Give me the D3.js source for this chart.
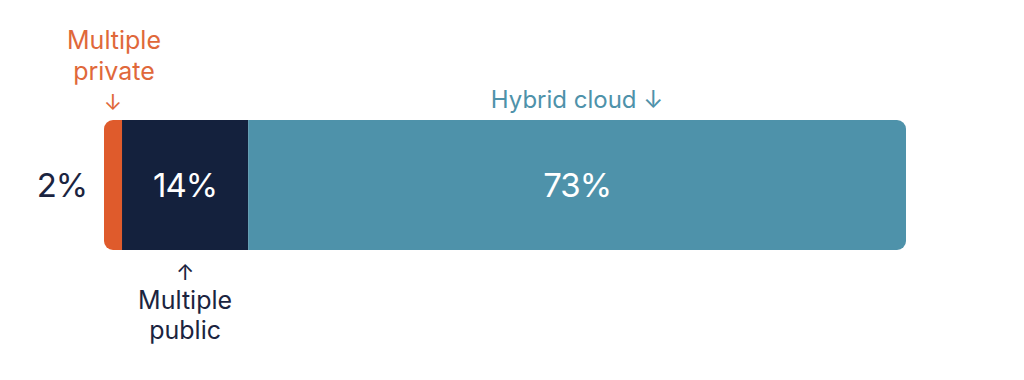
<!DOCTYPE html>
<html lang='en'>
<head>
<meta charset='utf-8'>
<script src='https://cdnjs.cloudflare.com/ajax/libs/d3/7.8.5/d3.min.js'></script>
<title>Cloud strategy</title>
<style>
body {
   margin:0;
   background:white;
   overflow:hidden;
}
text {
   font-family:'Inter', 'Lato', sans-serif;
}
</style>
</head>
<body>
<script>
var categories = ['Multiple private', 'Multiple public', 'Hybrid cloud'];
var values = [2, 14, 73];
var valueLabels = ['2%', '14%', '73%'];
var colors = ['#DF5B2C', '#14213D', '#4E92AA'];

var width = 1024, height = 380;
var barTop = 120, barH = 130;
var rad = 9;

var svg = d3.select('body')
            .append('svg')
            .attr('width', width)
            .attr('height', height);

// cumulative offsets for the stack
var segs = [];
var acc = 0;
for (var i = 0; i < values.length; i++) {
   segs.push({name : categories[i], v : values[i], x0 : acc, x1 : acc + values[i], label : valueLabels[i], col : colors[i]});
   acc += values[i];
}

var x = d3.scaleLinear().domain([0, acc]).range([104, 906]);

svg.append('clipPath').attr('id', 'barClip')
   .append('rect')
   .attr('x', x(0)).attr('y', barTop)
   .attr('width', x(acc) - x(0)).attr('height', barH)
   .attr('rx', rad).attr('ry', rad);

svg.append('g').attr('clip-path', 'url(#barClip)')
   .selectAll('rect')
   .data(segs)
   .enter()
   .append('rect')
   .attr('x', function(d){return x(d.x0);})
   .attr('y', barTop)
   .attr('width', function(d){return x(d.x1) - x(d.x0);})
   .attr('height', barH)
   .style('fill', function(d){return d.col;});

var midY = barTop + barH / 2 + 12;
function mid(d) {return (x(d.x0) + x(d.x1)) / 2;}

// 2% sits outside, others inside
svg.append('text')
   .attr('x', x(0) - 42).attr('y', midY)
   .attr('text-anchor', 'middle')
   .style('font-size', '33px').style('fill', '#1B2440')
   .style('letter-spacing', '-1px')
   .text(segs[0].label);
svg.selectAll('.inlabel')
   .data(segs.slice(1))
   .enter()
   .append('text')
   .attr('class', 'inlabel')
   .attr('x', mid).attr('y', midY)
   .attr('text-anchor', 'middle')
   .style('font-size', '33px').style('fill', 'white')
   .style('letter-spacing', '-1px')
   .text(function(d){return d.label;});

// multiple private, above
var priv = svg.append('text')
   .attr('text-anchor', 'middle')
   .style('font-size', '25px').style('fill', '#E0683A');
priv.append('tspan').attr('x', mid(segs[0]) + 1).attr('y', 49).text('Multiple');
priv.append('tspan').attr('x', mid(segs[0]) + 1).attr('y', 80).text('private');
priv.append('tspan').attr('x', mid(segs[0])).attr('y', 110).style('font-size', '22px').text('\u2193');

// multiple public, below
var pub = svg.append('text')
   .attr('text-anchor', 'middle')
   .style('font-size', '25px').style('fill', '#1B2440');
pub.append('tspan').attr('x', mid(segs[1])).attr('y', 280).style('font-size', '22px').text('\u2191');
pub.append('tspan').attr('x', mid(segs[1])).attr('y', 309).text('Multiple');
pub.append('tspan').attr('x', mid(segs[1])).attr('y', 339).text('public');

// hybrid cloud
svg.append('text')
   .attr('x', mid(segs[2])).attr('y', 108)
   .attr('text-anchor', 'middle')
   .style('font-size', '24px').style('fill', '#4E92AA')
   .text(segs[2].name + ' \u2193');
</script>
</body>
</html>
